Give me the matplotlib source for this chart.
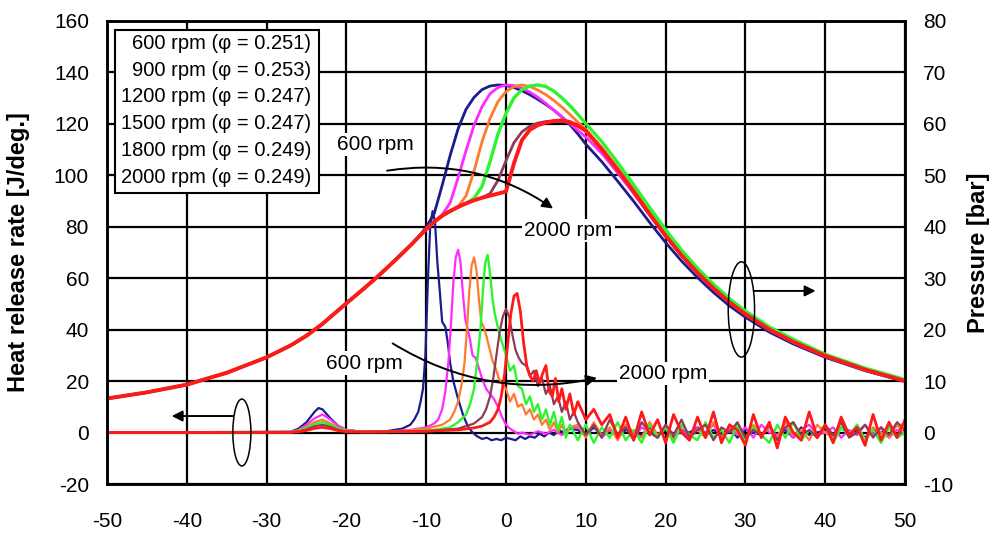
import numpy as np
import matplotlib
matplotlib.use("Agg")
import matplotlib.pyplot as plt
from matplotlib.patches import Ellipse, Rectangle

plt.rcParams['font.family'] = ['Liberation Sans', 'DejaVu Sans']
plt.rcParams['axes.unicode_minus'] = False

# ---------------------------------------------------------------- data
speeds = ['600', '900', '1200', '1500', '1800', '2000']
phi = ['0.251', '0.253', '0.247', '0.247', '0.249', '0.249']
colors = ['#1c1c8c', '#ff2bff', '#ff7a30', '#2df52d', '#8c3c5a', '#ff1a1a']

# in-cylinder pressure [bar] on a shared crank-angle grid [deg ATDC]
ca_p = [-50, -45, -40, -35, -30, -27, -25, -23, -20, -18, -16, -14, -12, -11,
        -10, -9, -8, -7, -6, -5, -4, -3, -2, -1, 0, 1, 2, 3, 4, 5, 6, 7, 8, 9,
        10, 12, 14, 16, 18, 20, 22, 24, 26, 28, 30, 33, 36, 40, 45, 50]
# compression part common to all speeds (-50 .. 0 deg)
p_comp = [6.6, 7.8, 9.3, 11.6, 14.6, 16.9, 18.8, 21.1, 25.1, 27.7, 30.4, 33.3,
          36.3, 37.9, 39.5, 40.9, 42.1, 43.0, 43.8, 44.5, 45.1, 45.6, 46.0,
          46.4, 46.8]
p_600 = p_comp[:14] + [39.9, 42.5, 48.0, 53.8, 59.0, 62.8, 65.1, 66.6, 67.3,
                       67.5, 67.4, 67.0, 66.4, 65.6, 64.7, 63.7, 62.6, 61.3,
                       59.8, 58.0, 56.0, 52.6, 48.8, 44.9, 40.8, 36.9, 33.3,
                       30.1, 27.2, 24.6, 22.4, 19.5, 17.2, 14.6, 12.0, 9.9]
p_900 = p_comp[:16] + [42.3, 44.6, 49.5, 54.8, 59.7, 63.3, 65.8, 67.0, 67.5,
                       67.4, 66.9, 66.1, 65.1, 63.9, 62.6, 61.3, 60.0, 58.7,
                       57.4, 54.2, 50.4, 46.4, 42.2, 38.1, 34.3, 30.9, 27.9,
                       25.2, 22.9, 19.9, 17.5, 14.8, 12.1, 10.0]
p_1200 = p_comp[:18] + [43.9, 46.0, 50.8, 56.5, 61.0, 64.3, 66.2, 67.2, 67.5,
                        67.2, 66.5, 65.6, 64.5, 63.2, 61.8, 60.3, 58.9, 55.4,
                        51.4, 47.2, 42.8, 38.6, 34.7, 31.3, 28.3, 25.6, 23.3,
                        20.3, 17.9, 15.1, 12.4, 10.2]
p_1500 = p_comp[:20] + [45.5, 47.8, 52.6, 58.0, 62.0, 65.0, 66.6, 67.3, 67.5,
                        67.2, 66.3, 65.0, 63.5, 61.8, 60.0, 56.5, 52.4, 48.1,
                        43.7, 39.4, 35.4, 31.9, 28.8, 26.0, 23.6, 20.5, 18.1,
                        15.2, 12.5, 10.3]
p_1800 = p_comp[:22] + [46.4, 49.0, 52.8, 56.3, 58.4, 59.5, 60.1, 60.4, 60.5,
                        60.4, 60.1, 59.5, 58.6, 55.0, 51.0, 46.8, 42.4, 38.2,
                        34.4, 31.0, 28.0, 25.3, 23.0, 20.0, 17.6, 14.9, 12.2,
                        10.0]
p_2000 = p_comp[:25] + [52.3, 56.8, 58.8, 59.7, 60.2, 60.5, 60.6, 60.3, 59.6,
                        58.6, 55.0, 51.0, 46.8, 42.4, 38.2, 34.4, 31.0, 28.0,
                        25.3, 23.0, 20.0, 17.6, 14.9, 12.2, 10.0]

# heat release rate [J/deg] up to ~8 deg ATDC
ca_hrr_600 = [-50, -27, -26, -25, -24, -23.5, -23, -22, -21, -20, -18, -15, -13,
              -12, -11.5, -11, -10.7, -10.4, -10.1, -9.8, -9.5, -9.2, -8.9,
              -8.6, -8.3, -8.0, -7.6, -7.3, -7.0, -6.6, -6.0, -5.4, -4.8, -4.2,
              -3.6, -3.0, -2.4, -1.8, -1.2, -0.6, 0, 0.6, 1.2, 1.8, 2.4, 3.0,
              3.6, 4.2, 4.8, 5.4, 6.0, 6.6, 7.2, 7.8]
hrr_600 = [0, 0.3, 1.5, 4, 8, 9.5, 9, 5.5, 2.5, 1, 0.3, 0.5, 1.5, 3, 5, 8, 12,
           17, 30, 58, 80, 86, 82, 66, 55, 43, 41, 35, 27, 20, 13, 7, 2.5, 0,
           -1.5, -2.5, -2, -3, -2.5, -3, -2, -2.5, -3, -1.5, -2.5, -1.5, -2,
           -0.5, -1.5, 0, -1, 1, 0, 1.5]
ca_hrr_900 = [-50, -27, -26, -25, -24, -23, -22, -21, -20, -18, -15, -12, -10,
              -9, -8.5, -8, -7.6, -7.2, -6.9, -6.6, -6.3, -6.0, -5.7, -5.4,
              -5.1, -4.8, -4.5, -4.2, -3.8, -3.4, -3.0, -2.5, -2.0, -1.5, -1.0,
              -0.5, 0, 0.5, 1.0, 1.5, 2.0, 3.0, 4.0, 5.0, 6.0, 7.0, 8.0]
hrr_900 = [0, 0.2, 1, 3, 5.5, 7, 5, 2.5, 1, 0.3, 0.3, 1, 2, 3.5, 5, 9, 16, 28,
           42, 58, 68, 71, 66, 54, 44, 40, 36, 30, 29, 25, 21, 17, 15, 13, 10,
           6, 3, 1.5, 0.5, -0.5, 0, -1, 0.5, -0.5, 1, -1, 2]
ca_hrr_1200 = [-50, -27, -26, -25, -24, -23, -22, -21, -20, -18, -15, -12, -10,
               -8, -7, -6.5, -6, -5.6, -5.2, -4.9, -4.6, -4.3, -4.0, -3.7, -3.4,
               -3.1, -2.8, -2.5, -2.1, -1.7, -1.3, -0.9, -0.5, 0, 0.5, 1.0, 1.5,
               2.0, 2.5, 3.0, 3.5, 4.0, 4.5, 5.0, 5.5, 6.0, 6.5, 7.0, 7.5, 8.0]
hrr_1200 = [0, 0.2, 0.8, 2.2, 4, 5, 3.5, 1.8, 0.8, 0.3, 0.3, 0.8, 1.5, 3, 5, 8,
            12, 18, 27, 40, 55, 65, 68, 63, 52, 43, 41, 38, 33, 28, 25, 21, 19,
            17, 12, 15, 10, 11, 7, 9, 5, 7, 3, 5, 1, 4, 0, 3, -1, 2]
ca_hrr_1500 = [-50, -27, -26, -25, -24, -23, -22, -21, -20, -18, -15, -12, -9,
               -7, -6, -5, -4.5, -4.0, -3.6, -3.2, -2.9, -2.6, -2.3, -2.0, -1.7,
               -1.4, -1.1, -0.8, -0.4, 0, 0.5, 1.0, 1.5, 2.0, 2.5, 3.0, 3.5,
               4.0, 4.5, 5.0, 5.5, 6.0, 6.5, 7.0, 7.5, 8.0]
hrr_1500 = [0, 0.1, 0.6, 1.8, 3.2, 4, 3, 1.5, 0.6, 0.2, 0.2, 0.5, 1, 2, 4, 7,
            11, 17, 28, 40, 55, 66, 69, 62, 52, 46, 42, 38, 34, 30, 24, 26, 18,
            17, 11, 14, 8, 11, 5, 9, 3, 8, 1, 6, -2, 3]
ca_hrr_1800 = [-50, -27, -26, -25, -24, -23, -22, -21, -20, -18, -15, -10, -6,
               -4, -3, -2.5, -2.0, -1.6, -1.2, -0.8, -0.4, 0, 0.4, 0.8, 1.2,
               1.6, 2.0, 2.5, 3.0, 3.5, 4.0, 4.5, 5.0, 5.5, 6.0, 6.5, 7.0, 7.5,
               8.0, 8.5]
hrr_1800 = [0, 0.1, 0.4, 1.2, 2.4, 3, 2.2, 1, 0.4, 0.2, 0.2, 0.5, 1.5, 3.5, 6,
            9, 14, 21, 30, 39, 45, 48, 45, 38, 32, 29, 27, 26, 22, 24, 18, 21,
            15, 18, 11, 14, 8, 12, 5, 8]
ca_hrr_2000 = [-50, -27, -26, -25, -24, -23, -22, -21, -20, -18, -15, -10, -6,
               -4, -3, -2, -1.5, -1.0, -0.6, -0.2, 0.2, 0.6, 1.0, 1.4, 1.8, 2.2,
               2.6, 3.0, 3.4, 3.8, 4.2, 4.6, 5.0, 5.4, 5.8, 6.2, 6.6, 7.0, 7.5,
               8.0, 8.5]
hrr_2000 = [0, 0, 0.3, 0.8, 1.6, 2, 1.5, 0.7, 0.3, 0.2, 0.3, 0.5, 1, 1.8, 2.5,
            4, 6, 9, 14, 22, 34, 46, 53, 54, 47, 35, 26, 22, 20, 24, 19, 23, 26,
            16, 14, 21, 12, 17, 9, 15, 7]

# late-cycle signal fluctuation, 9 .. 50 deg ATDC in 1-deg steps
ca_tail = np.arange(9, 51)
tail_600 = [1, -1, 2, -1, 1, -2, 1, 0, -1, 2, -1, 1, -2, 1, 0, 2, -1, 1, -1, 2,
            -2, 1, 0, -1, 2, -1, 1, -2, 2, -1, 0, 1, -1, 2, -1, 1, -2, 1, 0, 2,
            -1, 1]
tail_900 = [2, -1, 3, -2, 1, -1, 3, -2, 2, 0, -2, 3, -1, 1, -2, 2, 0, 3, -2, 1,
            -1, 2, -2, 3, 0, -1, 2, -2, 1, 3, -1, 0, 2, -2, 1, -1, 3, -1, 2, -2,
            1, 0]
tail_1200 = [3, -2, 4, -1, 2, -3, 3, 0, -2, 4, -1, 2, -3, 3, -1, 1, -2, 4, -2, 2,
             0, -3, 3, -1, 2, -2, 4, -1, 1, -3, 3, 0, -2, 2, -1, 3, -3, 2, 0, -2,
             3, -1]
tail_1500 = [-3, 3, -4, 2, -2, 4, -3, 1, -4, 3, -2, 2, -4, 3, -1, -3, 4, -2, 1,
             -4, 3, -3, 2, -1, -4, 3, -2, 4, -3, 1, -2, 3, -4, 2, -1, 3, -3, 1,
             -4, 2, -2, 0]
tail_1800 = [4, -1, 3, -2, 5, -1, 2, -3, 4, 0, -2, 3, -1, 5, -2, 1, 3, -3, 2, 0,
             4, -2, 1, -1, 3, -3, 2, 4, -1, 1, -2, 3, -1, 4, -2, 0, 3, -2, 2, -1,
             4, 1]
tail_2000 = [12, 5, 9, 3, 7, -2, 6, -3, 8, -1, 5, -4, 7, 0, -3, 6, -2, 8, -4, 3,
             1, -5, 7, -2, 4, -6, 6, 0, -3, 8, -2, 3, -4, 6, -1, 2, -5, 7, -3, 4,
             -2, 5]

pressures = [p_600, p_900, p_1200, p_1500, p_1800, p_2000]
hrr_ca = [ca_hrr_600, ca_hrr_900, ca_hrr_1200, ca_hrr_1500, ca_hrr_1800, ca_hrr_2000]
hrr_vals = [hrr_600, hrr_900, hrr_1200, hrr_1500, hrr_1800, hrr_2000]
hrr_tails = [tail_600, tail_900, tail_1200, tail_1500, tail_1800, tail_2000]

# ---------------------------------------------------------------- figure
fig = plt.figure(figsize=(10.06, 5.34), dpi=100)
ax = fig.add_axes([107 / 1006, 50 / 534, 798 / 1006, 463.4 / 534])
ax2 = ax.twinx()

p_lw = [2.0, 2.0, 2.0, 2.4, 2.0, 2.8]
h_lw = [1.6, 1.6, 1.6, 1.7, 1.6, 2.0]
for i in range(len(speeds)):
    x = np.concatenate([hrr_ca[i], ca_tail])
    y = np.concatenate([hrr_vals[i], hrr_tails[i]])
    ax.plot(x, y, color=colors[i], lw=h_lw[i], solid_joinstyle='round')
    ax2.plot(ca_p, pressures[i], color=colors[i], lw=p_lw[i],
             solid_joinstyle='round')

ax.set_xlim(-50, 50)
ax.set_ylim(-20, 160)
ax2.set_ylim(-10, 80)
ax.set_xticks(np.arange(-50, 51, 10))
ax.set_yticks(np.arange(-20, 161, 20))
ax2.set_yticks(np.arange(-10, 81, 10))
ax.grid(True, color='black', lw=1.6)
ax.set_axisbelow(True)
for a in (ax, ax2):
    for s in a.spines.values():
        s.set_linewidth(1.8)
        s.set_color('black')
ax.tick_params(axis='x', length=0, labelsize=15, pad=20)
ax.tick_params(axis='y', length=0, labelsize=15, pad=13)
ax2.tick_params(axis='y', length=0, labelsize=15, pad=13)

ax.set_ylabel('Heat release rate [J/deg.]', fontsize=17, fontweight='bold')
ax.yaxis.set_label_coords(-0.0965, 0.5)
ax2.set_ylabel('Pressure [bar]', fontsize=17, fontweight='bold')
ax2.yaxis.set_label_coords(1.078, 0.5)

# speed legend box
ax2.add_patch(Rectangle((0.0095, 0.628), 0.2562, 0.3517, transform=ax.transAxes,
                        facecolor='white', edgecolor='black', lw=1.5, zorder=6))
for i in range(len(speeds)):
    ax2.text(0.2556, 0.951 - i * 0.0578, f'{speeds[i]} rpm (\u03c6 = {phi[i]})',
             transform=ax.transAxes, ha='right', va='center', fontsize=14.5,
             zorder=7)

# annotations (heat-release axis coordinates)
box = dict(facecolor='white', edgecolor='none', pad=1.5)
arrow_kw = dict(arrowstyle='-|>', color='black', lw=1.4, mutation_scale=16,
                shrinkA=0, shrinkB=0)
ax2.text(-16.4, 112, '600 rpm', transform=ax.transData, ha='center',
         va='center', fontsize=15, bbox=box, zorder=5)
ax2.text(7.8, 78.5, '2000 rpm', transform=ax.transData, ha='center',
         va='center', fontsize=15, bbox=box, zorder=5)
ax2.annotate('', xy=(5.9, 87), xytext=(-14.9, 101.7), xycoords=ax.transData,
             textcoords=ax.transData,
             arrowprops=dict(connectionstyle='arc3,rad=-0.2', **arrow_kw),
             zorder=5)
ax2.text(-17.8, 27, '600 rpm', transform=ax.transData, ha='center',
         va='center', fontsize=15, bbox=box, zorder=5)
ax2.text(19.7, 22.9, '2000 rpm', transform=ax.transData, ha='center',
         va='center', fontsize=15, bbox=box, zorder=5)
ax2.annotate('', xy=(11.4, 21.2), xytext=(-14.2, 34.6), xycoords=ax.transData,
             textcoords=ax.transData,
             arrowprops=dict(connectionstyle='arc3,rad=0.2', **arrow_kw),
             zorder=5)

# axis-assignment markers
ax2.add_patch(Ellipse((-33.1, 0), 2.26, 26, transform=ax.transData,
                      facecolor='none', edgecolor='black', lw=1.1, zorder=5))
ax2.annotate('', xy=(-41.9, 6.4), xytext=(-34.2, 6.4), xycoords=ax.transData,
             textcoords=ax.transData, arrowprops=arrow_kw, zorder=5)
ax2.add_patch(Ellipse((29.5, 47.8), 3.3, 37, transform=ax.transData,
                      facecolor='none', edgecolor='black', lw=1.1, zorder=5))
ax2.annotate('', xy=(38.8, 55), xytext=(31.1, 55), xycoords=ax.transData,
             textcoords=ax.transData, arrowprops=arrow_kw, zorder=5)

fig.savefig('out.png', dpi=100, facecolor='white')
